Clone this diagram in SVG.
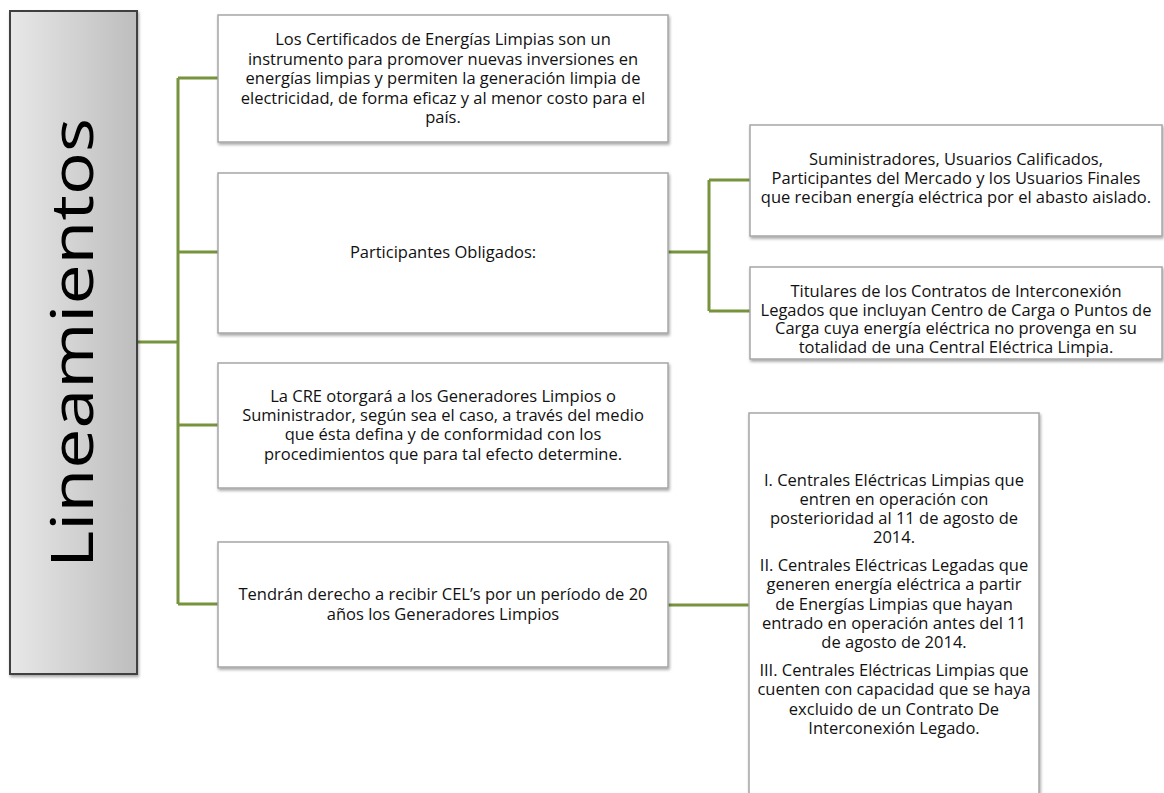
<svg xmlns="http://www.w3.org/2000/svg" width="1164" height="793" viewBox="0 0 1164 793">
<defs>
<linearGradient id="gr" x1="0" y1="0" x2="1" y2="0">
<stop offset="0" stop-color="#e8e8e8"/>
<stop offset="1" stop-color="#bdbdbd"/>
</linearGradient>
<filter id="sh" x="-10%" y="-10%" width="120%" height="120%">
<feDropShadow dx="1" dy="2" stdDeviation="1.5" flood-color="#000" flood-opacity="0.35"/>
</filter>
</defs>
<style>
.box{fill:#fff;stroke:#a6a6a6;stroke-width:1.5;filter:url(#sh)}
.t{font-family:"Open Sans","Noto Sans",sans-serif;font-size:16.5px;fill:#111;text-anchor:middle}
.c{fill:none;stroke:#77933c;stroke-width:3}
</style>
<rect width="1164" height="793" fill="#fff"/>
<g id="connectors">
<path class="c" d="M137 342H178M178 78V604M178 78H218M178 252H218M178 425H218M178 604H218"/>
<path class="c" d="M668 252H709M709 180V311M709 180H750M709 311H750"/>
<path class="c" d="M668 605H750"/>
</g>
<g id="root">
<rect x="10" y="11" width="127" height="663" fill="url(#gr)" stroke="#404040" stroke-width="2" filter="url(#sh)"/>
<text transform="translate(93 343) rotate(-90)" textLength="450" lengthAdjust="spacingAndGlyphs" style="font-family:'Open Sans','Noto Sans',sans-serif;font-size:58px;fill:#000;text-anchor:middle">Lineamientos</text>
</g>
<g id="n1">
<rect class="box" x="218" y="15" width="450" height="127"/>
<text class="t"><tspan x="443" y="45">Los Certificados de Energías Limpias son un</tspan><tspan x="443" y="64.5">instrumento para promover nuevas inversiones en</tspan><tspan x="443" y="84">energías limpias y permiten la generación limpia de</tspan><tspan x="443" y="103.5">electricidad, de forma eficaz y al menor costo para el</tspan><tspan x="443" y="123">país.</tspan></text>
</g>
<g id="n2">
<rect class="box" x="218" y="173" width="450" height="160"/>
<text class="t" x="443" y="258">Participantes Obligados:</text>
</g>
<g id="n3">
<rect class="box" x="218" y="363" width="450" height="125"/>
<text class="t"><tspan x="443" y="402">La CRE otorgará a los Generadores Limpios o</tspan><tspan x="443" y="421">Suministrador, según sea el caso, a través del medio</tspan><tspan x="443" y="440">que ésta defina y de conformidad con los</tspan><tspan x="443" y="460">procedimientos que para tal efecto determine.</tspan></text>
</g>
<g id="n4">
<rect class="box" x="218" y="542" width="450" height="125"/>
<text class="t"><tspan x="443" y="600">Tendrán derecho a recibir CEL’s por un período de 20</tspan><tspan x="443" y="620">años los Generadores Limpios</tspan></text>
</g>
<g id="n5">
<rect class="box" x="750" y="125" width="412" height="111"/>
<text class="t"><tspan x="956" y="165">Suministradores, Usuarios Calificados,</tspan><tspan x="956" y="184">Participantes del Mercado y los Usuarios Finales</tspan><tspan x="956" y="203">que reciban energía eléctrica por el abasto aislado.</tspan></text>
</g>
<g id="n6">
<rect class="box" x="750" y="267" width="412" height="92"/>
<text class="t"><tspan x="956" y="297">Titulares de los Contratos de Interconexión</tspan><tspan x="956" y="315.5">Legados que incluyan Centro de Carga o Puntos de</tspan><tspan x="956" y="334">Carga cuya energía eléctrica no provenga en su</tspan><tspan x="956" y="352.5">totalidad de una Central Eléctrica Limpia.</tspan></text>
</g>
<g id="n7">
<rect class="box" x="749" y="413" width="290" height="390"/>
<text class="t"><tspan x="894" y="486">I. Centrales Eléctricas Limpias que</tspan><tspan x="894" y="505">entren en operación con</tspan><tspan x="894" y="524">posterioridad al 11 de agosto de</tspan><tspan x="894" y="543">2014.</tspan><tspan x="894" y="571">II. Centrales Eléctricas Legadas que</tspan><tspan x="894" y="590">generen energía eléctrica a partir</tspan><tspan x="894" y="610">de Energías Limpias que hayan</tspan><tspan x="894" y="629">entrado en operación antes del 11</tspan><tspan x="894" y="648">de agosto de 2014.</tspan><tspan x="894" y="676">III. Centrales Eléctricas Limpias que</tspan><tspan x="894" y="695">cuenten con capacidad que se haya</tspan><tspan x="894" y="715">excluido de un Contrato De</tspan><tspan x="894" y="734">Interconexión Legado.</tspan></text>
</g>
</svg>
